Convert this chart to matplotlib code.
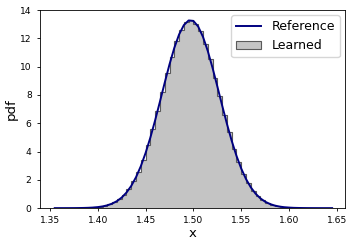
import numpy as np
import matplotlib
matplotlib.use("Agg")
from matplotlib import pyplot as plt

# reference pdf
ref_x = [1.355, 1.360, 1.365, 1.370, 1.375, 1.380, 1.385, 1.390, 1.395, 1.400,
         1.405, 1.410, 1.415, 1.420, 1.425, 1.430, 1.435, 1.440, 1.445, 1.450,
         1.455, 1.460, 1.465, 1.470, 1.475, 1.480, 1.485, 1.490, 1.495, 1.500,
         1.505, 1.510, 1.515, 1.520, 1.525, 1.530, 1.535, 1.540, 1.545, 1.550,
         1.555, 1.560, 1.565, 1.570, 1.575, 1.580, 1.585, 1.590, 1.595, 1.600,
         1.605, 1.610, 1.615, 1.620, 1.625, 1.630, 1.635, 1.640, 1.645]
ref_pdf = [0.0002, 0.0004, 0.0008, 0.0017, 0.0034, 0.0066, 0.0125, 0.023, 0.041, 0.071,
           0.121, 0.198, 0.317, 0.493, 0.746, 1.098, 1.571, 2.187, 2.961, 3.899,
           4.991, 6.216, 7.529, 8.870, 10.163, 11.324, 12.275, 12.940, 13.268, 13.232,
           12.833, 12.106, 11.108, 9.911, 8.602, 7.262, 5.962, 4.761, 3.697, 2.792,
           2.052, 1.466, 1.019, 0.689, 0.453, 0.290, 0.180, 0.109, 0.064, 0.037,
           0.020, 0.011, 0.006, 0.003, 0.0015, 0.0007, 0.0003, 0.00015, 0.0001]

# learned histogram (density), bins of 0.005 from 1.355
bin_edges = [1.355 + 0.005 * i for i in range(59)]
learned = [0.0003, 0.0006, 0.0012, 0.0025, 0.005, 0.0095, 0.018, 0.032, 0.056, 0.096,
           0.16, 0.26, 0.41, 0.63, 0.93, 1.32, 1.90, 2.58, 3.41, 4.47,
           5.58, 6.90, 8.18, 9.55, 10.71, 11.84, 12.58, 13.13, 13.27, 13.00,
           12.50, 11.58, 10.54, 9.22, 7.96, 6.58, 5.38, 4.20, 3.26, 2.40,
           1.77, 1.23, 0.86, 0.57, 0.37, 0.235, 0.145, 0.087, 0.051, 0.029,
           0.016, 0.0085, 0.0045, 0.0022, 0.001, 0.0005, 0.0002, 0.0001]

fig = plt.figure(figsize=(3.57, 2.46), dpi=100)
ax = fig.add_axes([0.112, 0.154, 0.854, 0.805])

ax.stairs(learned, bin_edges, fill=True, facecolor="#c4c4c4", edgecolor="#5a5a5a",
          linewidth=0.8, label="Learned")
ax.plot(ref_x, ref_pdf, color="navy", linewidth=1.4, label="Reference")

ax.set_xlim(1.3396, 1.6583)
ax.set_ylim(0, 14)
ax.set_xticks([1.35, 1.40, 1.45, 1.50, 1.55, 1.60, 1.65])
ax.set_yticks(range(0, 15, 2))
ax.tick_params(labelsize=6.6, length=2.5, width=0.6)
for s in ax.spines.values():
    s.set_linewidth(0.6)
ax.set_xlabel("x", fontsize=9.5, labelpad=1)
ax.set_ylabel("pdf", fontsize=9.5, labelpad=1.5)

h, l = ax.get_legend_handles_labels()
ax.legend(h[::-1], l[::-1], loc="upper right", fontsize=9, handlelength=2.0,
          borderaxespad=0.4, handletextpad=0.8)

fig.savefig("out.png", dpi=100)
